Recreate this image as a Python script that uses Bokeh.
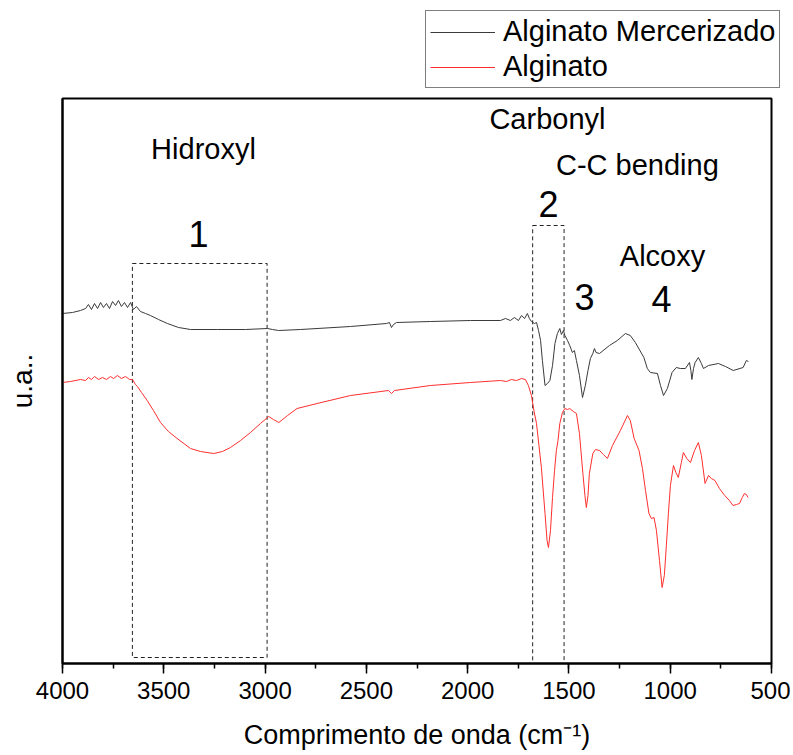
from bokeh.plotting import figure
from bokeh.layouts import column, row
from bokeh.models import Range1d, SingleIntervalTicker, FixedTicker, Legend, LegendItem, ColumnDataSource, Spacer
from bokeh.core.properties import value
from bokeh.embed import file_html
from bokeh.resources import INLINE

# ---------------- data ----------------
# Alginato Mercerizado (black trace): wavenumber (cm-1) and intensity (a.u.)
merc_wn = [4000, 3951, 3911, 3886, 3872, 3857, 3842, 3827, 3812, 3798,
           3783, 3768, 3753, 3738, 3724, 3709, 3694, 3679, 3664, 3650,
           3635, 3615, 3590, 3566, 3526, 3482, 3427, 3368, 3235, 3097,
           2988, 2963, 2934, 2825, 2578, 2401, 2386, 2376, 2366, 2351,
           2184, 1986, 1838, 1813, 1789, 1769, 1749, 1734, 1719, 1705,
           1695, 1685, 1670, 1660, 1650, 1640, 1631, 1618, 1606, 1594,
           1581, 1569, 1557, 1545, 1537, 1527, 1520, 1507, 1496, 1483,
           1473, 1463, 1448, 1433, 1419, 1406, 1394, 1382, 1374, 1366,
           1349, 1300, 1261, 1221, 1197, 1172, 1130, 1113, 1098, 1063,
           1048, 1033, 1014, 991, 970, 950, 925, 905, 898, 893,
           885, 877, 861, 846, 836, 811, 762, 727, 689, 640,
           624, 614]
merc_ua = [350, 351, 353, 355, 359, 354, 360, 355, 361, 356,
           360, 355, 362, 358, 363, 357, 361, 356, 361, 354,
           357, 352, 350, 348, 344, 340, 336, 334, 334, 334,
           335, 334, 333, 334, 337, 340, 341, 336, 339, 341,
           342, 343, 343, 345, 343, 346, 343, 348, 345, 350,
           345, 342, 340, 341, 333, 323, 303, 278, 280, 283,
           298, 320, 330, 335, 329, 333, 328, 323, 318, 311,
           313, 303, 288, 266, 278, 293, 305, 310, 315, 311,
           310, 318, 323, 330, 328, 321, 306, 295, 291, 290,
           278, 268, 275, 291, 296, 295, 295, 301, 293, 284,
           295, 301, 306, 300, 295, 298, 300, 297, 293, 296,
           303, 302]

# Alginato (red trace)
alg_wn = [4000, 3961, 3911, 3886, 3872, 3857, 3842, 3822, 3803, 3783,
          3763, 3748, 3729, 3709, 3689, 3669, 3654, 3640, 3630, 3610,
          3582, 3551, 3516, 3477, 3434, 3368, 3319, 3253, 3210, 3171,
          3121, 3072, 3023, 2982, 2959, 2932, 2889, 2842, 2743, 2578,
          2391, 2376, 2361, 2184, 1986, 1838, 1808, 1784, 1759, 1734,
          1715, 1700, 1685, 1673, 1660, 1648, 1636, 1618, 1608, 1601,
          1591, 1581, 1571, 1562, 1554, 1545, 1532, 1520, 1507, 1496,
          1478, 1463, 1448, 1431, 1421, 1414, 1406, 1399, 1382, 1369,
          1349, 1330, 1310, 1285, 1246, 1211, 1197, 1178, 1154, 1137,
          1122, 1105, 1093, 1080, 1068, 1053, 1040, 1029, 1019, 1009,
          999, 984, 972, 960, 945, 935, 918, 900, 880, 861,
          846, 828, 811, 797, 779, 757, 731, 708, 690, 673,
          658, 644, 634, 624, 616]
alg_ua = [281, 282, 284, 283, 286, 284, 287, 284, 286, 284,
          287, 285, 288, 285, 287, 284, 284, 279, 277, 271,
          263, 253, 241, 232, 225, 215, 212, 210, 212, 216,
          223, 231, 240, 247, 244, 241, 248, 255, 260, 268,
          273, 270, 273, 278, 281, 283, 282, 284, 283, 285,
          284, 278, 268, 253, 240, 218, 196, 150, 123, 116,
          133, 166, 193, 213, 223, 240, 251, 255, 254, 255,
          252, 250, 230, 190, 168, 156, 168, 190, 210, 214,
          213, 209, 205, 218, 233, 248, 243, 225, 213, 195,
          173, 150, 145, 146, 133, 103, 76, 88, 118, 150,
          178, 198, 191, 186, 201, 211, 205, 201, 213, 221,
          208, 180, 188, 185, 183, 175, 168, 163, 158, 159,
          160, 166, 170, 169, 166]

# dashed regions
box_left = [3655, 1679]
box_right = [2990, 1524]
box_top = [400, 438]
box_bottom = [6, 0]

# annotations
band_text = ["Hidroxyl", "Carbonyl", "C-C bending", "Alcoxy"]
band_wn = [3304, 1606, 1162, 1038]
band_ua = [515, 545, 499, 408]
num_text = ["1", "2", "3", "4"]
num_wn = [3329, 1601, 1423, 1043]
num_ua = [430, 460, 367, 365]

series_labels = ["Alginato Mercerizado", "Alginato"]
x_label = "Comprimento de onda (cm\u207b\u00b9)"
y_label = "u.a.."

FONT = "Liberation Sans"
MERC_COLOR = "#3a3a3a"
ALG_COLOR = "#ff2e2e"

# ---------------- legend strip (above the plot, right side) ----------------
leg = figure(width=366, height=96, output_backend="svg", toolbar_location=None,
             x_range=Range1d(0, 1), y_range=Range1d(0, 1),
             min_border_left=0, min_border_right=0, min_border_top=0, min_border_bottom=0,
             x_axis_type=None, y_axis_type=None)
leg.outline_line_color = None
leg.xgrid.visible = False
leg.ygrid.visible = False
# same series, drawn outside this strip's view; used only for the legend glyphs
lr_merc = leg.line(merc_wn, merc_ua, line_color=MERC_COLOR, line_width=1)
lr_alg = leg.line(alg_wn, alg_ua, line_color=ALG_COLOR, line_width=1)
legend = Legend(items=[LegendItem(label=series_labels[0], renderers=[lr_merc]),
                       LegendItem(label=series_labels[1], renderers=[lr_alg])],
                location=(0, 8))
legend.label_text_font = FONT
legend.label_text_font_size = "29px"
legend.label_text_color = "black"
legend.glyph_width = 65
legend.glyph_height = 30
legend.label_height = 30
legend.label_standoff = 8
legend.spacing = 2
legend.padding = 4
legend.margin = 0
legend.border_line_color = "black"
legend.border_line_width = 1
legend.background_fill_color = "white"
legend.background_fill_alpha = 1
leg.add_layout(legend, "center")

# ---------------- main plot ----------------
p = figure(width=790, height=658, output_backend="svg", toolbar_location=None,
           x_range=Range1d(4000, 500), y_range=Range1d(0, 565),
           min_border_left=62, min_border_right=19, min_border_top=2, min_border_bottom=91)
p.background_fill_color = "white"
p.border_fill_color = "white"
p.outline_line_color = "black"
p.outline_line_width = 2
p.xgrid.visible = False
p.ygrid.visible = False

p.quad(left=box_left, right=box_right, top=box_top, bottom=box_bottom,
       fill_color=None, line_color="#222222", line_width=1, line_dash="4 3")

p.line(merc_wn, merc_ua, line_color=MERC_COLOR, line_width=1)
p.line(alg_wn, alg_ua, line_color=ALG_COLOR, line_width=1)

band_src = ColumnDataSource(dict(x=band_wn, y=band_ua, t=band_text))
p.text(x="x", y="y", text="t", source=band_src, text_align="center", text_baseline="middle",
       text_font=value(FONT), text_font_size=value("29px"), text_color="black")
num_src = ColumnDataSource(dict(x=num_wn, y=num_ua, t=num_text))
p.text(x="x", y="y", text="t", source=num_src, text_align="center", text_baseline="middle",
       text_font=value(FONT), text_font_size=value("36px"), text_color="black")

xa = p.xaxis[0]
xa.ticker = SingleIntervalTicker(interval=500, num_minor_ticks=2)
xa.axis_line_width = 2
xa.major_tick_out = 10
xa.major_tick_in = 0
xa.minor_tick_out = 5
xa.minor_tick_in = 0
xa.major_tick_line_width = 1.5
xa.minor_tick_line_width = 1.5
xa.major_label_text_font = FONT
xa.major_label_text_font_size = "24px"
xa.major_label_text_color = "black"
xa.major_label_standoff = 8
xa.axis_label = x_label
xa.axis_label_text_font = FONT
xa.axis_label_text_font_size = "27px"
xa.axis_label_text_font_style = "normal"
xa.axis_label_text_color = "black"
xa.axis_label_standoff = 18

ya = p.yaxis[0]
ya.ticker = FixedTicker(ticks=[])
ya.axis_line_width = 2
ya.major_tick_out = 0
ya.major_tick_in = 0
ya.minor_tick_out = 0
ya.minor_tick_in = 0
ya.axis_label = y_label
ya.axis_label_text_font = FONT
ya.axis_label_text_font_size = "28px"
ya.axis_label_text_font_style = "normal"
ya.axis_label_text_color = "black"
ya.axis_label_standoff = 25

layout = column(row(Spacer(width=425, height=96), leg, spacing=0), p, spacing=0)
open("out.html", "w").write(file_html(layout, INLINE))
